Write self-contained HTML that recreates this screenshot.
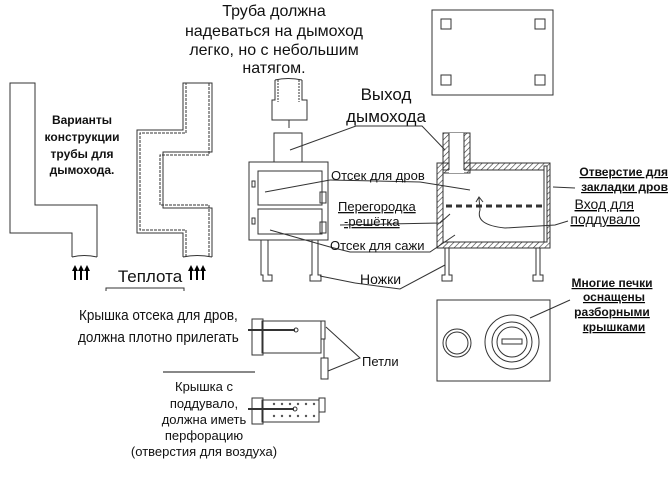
<!DOCTYPE html>
<html><head><meta charset="utf-8"><style>
body{margin:0;background:#fff}
svg{display:block}
text{font-family:"Liberation Sans",sans-serif;fill:#111}
.b{font-weight:bold}
</style></head><body>
<svg width="671" height="480" viewBox="0 0 671 480" xmlns="http://www.w3.org/2000/svg">
<defs>
<pattern id="h" width="4" height="4" patternUnits="userSpaceOnUse" patternTransform="rotate(45)"><line x1="0" y1="0" x2="0" y2="4" stroke="#333" stroke-width="1.2"/></pattern>
</defs>
<g fill="none" stroke="#333" stroke-width="1">
<rect x="432" y="10" width="121" height="85"/>
<rect x="441" y="19" width="10" height="10"/><rect x="535" y="19" width="10" height="10"/>
<rect x="441" y="75" width="10" height="10"/><rect x="535" y="75" width="10" height="10"/>
<path d="M72,257 L72,233 L10,233 L10,83 L35,83 L35,205 L97,205 L97,257"/>
<path d="M72,257 Q84,254 97,257"/>
<path d="M183,257 L183,233 L137,233 L137,130 L183,130 L183,83 L212,83 L212,152 L163,152 L163,208 L212,208 L212,257" stroke-width="1"/>
<path d="M186,257 L186,230 L140,230 L140,133 L186,133 L186,83 M209,83 L209,155 L160,155 L160,205 L209,205 L209,257" stroke-dasharray="3 1"/>
<path d="M183,257 Q197,254 212,257"/>
<path d="M106,291 L106,288 L184,288 L184,291"/>
<path d="M275,80 L275,100 L272,100 L272,120 L307,120 L307,100 L302,100 L302,80"/>
<path d="M278,80 L278,102 M299,80 L299,102" stroke-dasharray="2 1"/>
<path d="M275,80 Q288,77 302,80"/>
<line x1="289" y1="120" x2="289" y2="128"/>
<rect x="274" y="133" width="28" height="29"/>
<rect x="249" y="162" width="79" height="78"/>
<rect x="258" y="171" width="64" height="34"/>
<rect x="258" y="209" width="64" height="25"/>
<rect x="320" y="192" width="6" height="11"/><rect x="320" y="222" width="6" height="11"/>
<rect x="252" y="181" width="3" height="6"/><rect x="252" y="218" width="3" height="6"/>
<path d="M261,240 L261,275 L263,275 L263,281 L272,281 L272,275 L268,275 L268,240"/>
<path d="M312,240 L312,275 L310,275 L310,281 L321,281 L321,275 L318,275 L318,240"/>
<rect x="437" y="163" width="113" height="85" fill="url(#h)"/>
<rect x="443" y="170" width="101" height="72" fill="#fff"/>
<rect x="443" y="133" width="27" height="40" fill="url(#h)"/>
<rect x="449" y="133" width="15" height="40" fill="#fff" stroke="none"/>
<line x1="449" y1="133" x2="449" y2="170"/><line x1="464" y1="133" x2="464" y2="170"/>
<rect x="544" y="166" width="3" height="76" fill="#fff"/>
<path d="M446,206 L546,206" stroke-dasharray="6 4" stroke-width="3"/>
<path d="M505,228 Q475,225 480,210 L479,198" />
<path d="M476,202 L479,197 L483,202"/>
<path d="M445,248 L445,275 L442,275 L442,281 L452,281 L452,275 L449,275 L449,248"/>
<path d="M536,248 L536,275 L533,275 L533,281 L543,281 L543,275 L540,275 L540,248"/>
<path d="M356,126 L290,150"/>
<path d="M356,126 L422,126 L445,150"/>
<path d="M330,180 L265,192"/>
<path d="M330,180 L420,182 L470,190"/>
<path d="M340,225 L440,223 L450,214"/>
<path d="M330,247 L350,252 L430,252 L455,235"/>
<path d="M330,247 L270,230"/>
<path d="M355,283 L320,276"/>
<path d="M355,283 L400,289 L445,265"/>
<path d="M575,188 L553,187"/>
<path d="M568,221 L555,225 L505,228"/>
<path d="M570,300 L530,318"/>
<rect x="437" y="300" width="113" height="81"/>
<circle cx="457" cy="343" r="14"/><circle cx="457" cy="343" r="11"/>
<circle cx="512" cy="342" r="27"/><circle cx="512" cy="342" r="20"/><circle cx="512" cy="342" r="15"/>
<rect x="502" y="339" width="20" height="5"/>
<rect x="252" y="319" width="11" height="36"/>
<rect x="262" y="321" width="59" height="32"/>
<rect x="321" y="321" width="4" height="18"/>
<rect x="321" y="358" width="7" height="21"/>
<line x1="324" y1="339" x2="324" y2="358"/>
<line x1="248" y1="330" x2="295" y2="330" stroke-width="2"/>
<circle cx="296" cy="330" r="2"/>
<path d="M326,327 L360,358 L328,371"/>
<line x1="163" y1="372" x2="255" y2="372" stroke="#888" stroke-width="2"/>
<rect x="252" y="398" width="11" height="26"/>
<rect x="262" y="400" width="57" height="22"/>
<rect x="319" y="398" width="6" height="14"/>
<line x1="248" y1="409" x2="294" y2="409" stroke-width="2"/>
<circle cx="295" cy="409" r="2"/>
</g>
<g fill="#555">
<circle cx="274" cy="404" r="1.2"/><circle cx="282" cy="404" r="1.2"/><circle cx="290" cy="404" r="1.2"/><circle cx="298" cy="404" r="1.2"/><circle cx="306" cy="404" r="1.2"/><circle cx="314" cy="404" r="1.2"/>
<circle cx="274" cy="416" r="1.2"/><circle cx="282" cy="416" r="1.2"/><circle cx="290" cy="416" r="1.2"/><circle cx="298" cy="416" r="1.2"/><circle cx="306" cy="416" r="1.2"/><circle cx="314" cy="416" r="1.2"/>
</g>
<g stroke="#000" stroke-width="2" fill="#000">
<path d="M75,280 V270 M81,280 V270 M87,280 V270 M191,280 V270 M197,280 V270 M203,280 V270"/>
</g>
<g fill="#000"><path d="M72,271 L75,265 L78,271Z M78,271 L81,265 L84,271Z M84,271 L87,265 L90,271Z M188,271 L191,265 L194,271Z M194,271 L197,265 L200,271Z M200,271 L203,265 L206,271Z"/></g>
<g font-size="16" text-anchor="middle">
<text x="274" y="16">Труба должна</text>
<text x="274" y="36">надеваться на дымоход</text>
<text x="274" y="55">легко, но с небольшим</text>
<text x="274" y="73">натягом.</text>
<text x="386" y="100" font-size="17">Выход</text>
<text x="386" y="122" font-size="17">дымохода</text>
<text x="150" y="282" font-size="17">Теплота</text>
</g>
<g font-size="12" class="b" text-anchor="middle">
<text x="82" y="124">Варианты</text>
<text x="82" y="141">конструкции</text>
<text x="82" y="158">трубы для</text>
<text x="82" y="174">дымохода.</text>
</g>
<g font-size="13">
<text x="331" y="180">Отсек для дров</text>
<text x="338" y="211" text-decoration="underline">Перегородка</text>
<text x="344" y="226" text-decoration="underline">-решётка</text>
<text x="330" y="250">Отсек для сажи</text>
<text x="360" y="284" font-size="14">Ножки</text>
<text x="362" y="366">Петли</text>
</g>
<g font-size="12" class="b" text-anchor="end" text-decoration="underline">
<text x="668" y="176">Отверстие для</text>
<text x="668" y="191">закладки дров</text>
<text x="634" y="209" font-size="14" font-weight="normal">Вход для</text>
<text x="640" y="224" font-size="14" font-weight="normal">поддувало</text>
</g>
<g font-size="12" class="b" text-anchor="middle" text-decoration="underline">
<text x="612" y="287">Многие печки</text>
<text x="614" y="301">оснащены</text>
<text x="612" y="316">разборными</text>
<text x="614" y="331">крышками</text>
</g>
<g font-size="15" text-anchor="middle" transform="scale(0.9,1)">
<text x="176" y="320">Крышка отсека для дров,</text>
<text x="176" y="342">должна плотно прилегать</text>
</g>
<g font-size="13" text-anchor="middle">
<text x="204" y="391">Крышка с</text>
<text x="204" y="408">поддувало,</text>
<text x="204" y="424">должна иметь</text>
<text x="204" y="440">перфорацию</text>
<text x="204" y="456">(отверстия для воздуха)</text>
</g>
</svg>
</body></html>
